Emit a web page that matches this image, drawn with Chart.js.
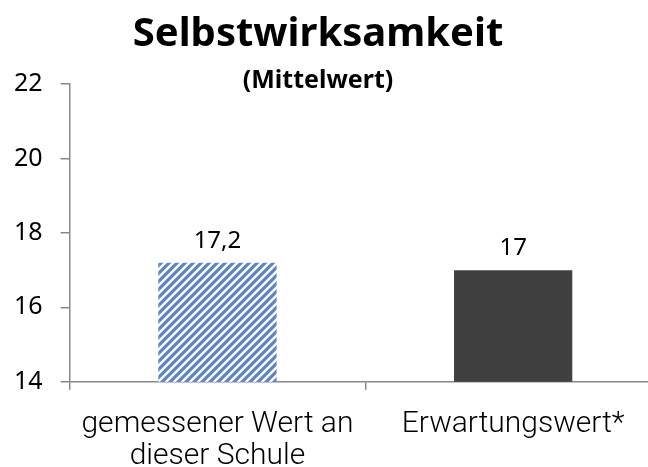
<!DOCTYPE html>
<html>
<head>
<meta charset="utf-8">
<script src="https://cdn.jsdelivr.net/npm/chart.js@4"></script>
<style>
  html, body { margin: 0; padding: 0; background: #fff; }
  #clip { width: 648px; height: 467px; overflow: hidden; }
  #wrap { width: 661px; height: 467px; }
</style>
</head>
<body>
<div id="clip"><div id="wrap"><canvas id="chart"></canvas></div></div>
<script>
const chartTitle = 'Selbstwirksamkeit';
const chartSubtitle = '(Mittelwert)';
const categories = [['gemessener Wert an', 'dieser Schule'], 'Erwartungswert*'];
const values = [17.2, 17];
const valueLabels = ['17,2', '17'];
const yTicks = { min: 14, max: 22, step: 2 };

// diagonal blue/white stripes for the school bar
function stripes() {
    const c = document.createElement('canvas');
    c.width = 8; c.height = 8;
    const g = c.getContext('2d');
    g.fillStyle = '#ffffff';
    g.fillRect(0, 0, 8, 8);
    g.strokeStyle = '#5b83c9';
    g.lineWidth = 3.2;
    g.beginPath();
    g.moveTo(-2, 2); g.lineTo(2, -2);
    g.moveTo(0, 8); g.lineTo(8, 0);
    g.moveTo(6, 10); g.lineTo(10, 6);
    g.stroke();
    return g.createPattern(c, 'repeat');
}

// value above each bar
const valueLabelPlugin = {
    id: 'valueLabels',
    afterDatasetsDraw(chart) {
        const ctx = chart.ctx;
        const meta = chart.getDatasetMeta(0);
        ctx.save();
        ctx.font = '24px "Noto Sans"';
        ctx.fillStyle = '#000';
        ctx.textAlign = 'center';
        ctx.textBaseline = 'alphabetic';
        meta.data.forEach((bar, i) => {
            ctx.fillText(valueLabels[i], bar.x, bar.y - 15);
        });
        ctx.restore();
    }
};

// title + subtitle sit over the plot like in the original
const titlePlugin = {
    id: 'overTitle',
    afterDraw(chart) {
        const ctx = chart.ctx;
        const cx = 318;
        ctx.save();
        ctx.fillStyle = '#000';
        ctx.textAlign = 'center';
        ctx.textBaseline = 'alphabetic';
        ctx.font = 'bold 40px "Noto Sans"';
        ctx.fillText(chartTitle, cx, 46);
        ctx.font = 'bold 25px "Noto Sans"';
        ctx.fillText(chartSubtitle, cx, 88);
        ctx.restore();
    }
};

const axisGray = '#888888';

new Chart(document.getElementById('chart'), {
    type: 'bar',
    data: {
        labels: categories,
        datasets: [{
            data: values,
            backgroundColor: [stripes(), '#404040'],
            borderWidth: 0,
            categoryPercentage: 1,
            barPercentage: 0.4
        }]
    },
    options: {
        responsive: true,
        maintainAspectRatio: false,
        animation: false,
        layout: { padding: { left: -4, right: 0, top: 84, bottom: -25 } },
        plugins: {
            legend: { display: false },
            tooltip: { enabled: false },
            title: { display: false }
        },
        scales: {
            x: {
                grid: { display: true, drawOnChartArea: false, color: axisGray, lineWidth: 1.5, tickLength: 8 },
                border: { color: axisGray, width: 1.5 },
                ticks: {
                    color: '#000',
                    font: { family: 'Roboto', size: 30, weight: 300, lineHeight: 1.07 },
                    padding: 19,
                    maxRotation: 0,
                    autoSkip: false
                }
            },
            y: {
                min: yTicks.min,
                max: yTicks.max,
                grid: { display: true, drawOnChartArea: false, color: axisGray, lineWidth: 1.5, tickLength: 9 },
                border: { color: axisGray, width: 1.5 },
                ticks: {
                    stepSize: yTicks.step,
                    color: '#000',
                    font: { family: '"Noto Sans"', size: 25 },
                    padding: 18
                }
            }
        }
    },
    plugins: [valueLabelPlugin, titlePlugin]
});
</script>
</body>
</html>
